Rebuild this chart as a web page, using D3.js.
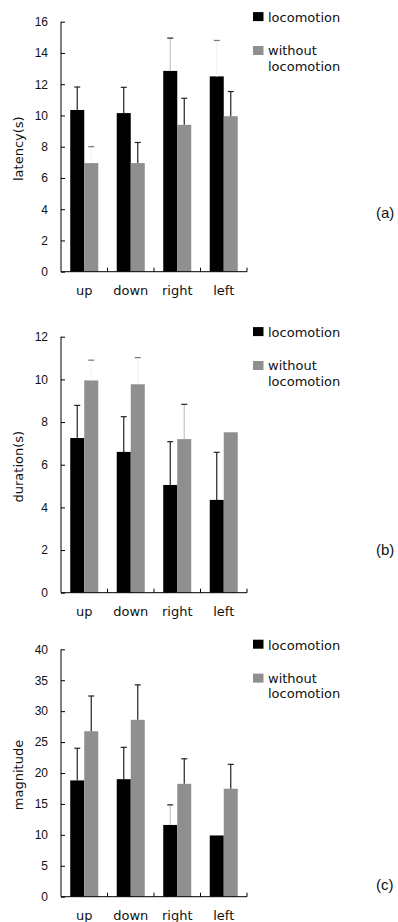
<!DOCTYPE html>
<html>
<head>
<meta charset="utf-8">
<script src="https://cdn.jsdelivr.net/npm/d3@7"></script>
<style>
    body { margin: 0; background: #fff; }
    svg { display: block; }
    .tick text { font-family: 'Liberation Sans', Arial, sans-serif; font-size: 12px; fill: #111; }
    .cat text { font-family: 'DejaVu Sans', sans-serif; font-size: 13px; fill: #111; }
    .lbl { font-family: 'DejaVu Sans', sans-serif; font-size: 13px; fill: #111; }
    .panel { font-family: 'Liberation Sans', Arial, sans-serif; font-size: 15px; fill: #111; }
</style>
</head>
<body>
<svg id="plate" width="398" height="922"></svg>
<script>
var categories = ['up', 'down', 'right', 'left'];
var seriesNames = ['locomotion', 'without locomotion'];

// latency (s)
var latencyLoco = [10.35, 10.15, 12.85, 12.5];
var latencyLocoSd = [1.47, 1.65, 2.1, 2.3];
var latencyWithout = [6.95, 6.95, 9.4, 9.95];
var latencyWithoutSd = [1.05, 1.32, 1.7, 1.58];
var latencyTicks = [0, 2, 4, 6, 8, 10, 12, 14, 16];

// duration (s)
var durationLoco = [7.25, 6.6, 5.05, 4.35];
var durationLocoSd = [1.53, 1.65, 2.03, 2.23];
var durationWithout = [9.95, 9.77, 7.2, 7.52];
var durationWithoutSd = [0.95, 1.25, 1.63, null];
var durationTicks = [0, 2, 4, 6, 8, 10, 12];

// magnitude
var magnitudeLoco = [18.8, 19.0, 11.6, 9.9];
var magnitudeLocoSd = [5.2, 5.15, 3.25, null];
var magnitudeWithout = [26.75, 28.6, 18.25, 17.45];
var magnitudeWithoutSd = [5.7, 5.65, 4.05, 3.95];
var magnitudeTicks = [0, 5, 10, 15, 20, 25, 30, 35, 40];

// some whisker stems are barely visible in the original scan
var whiskerLook = {
    'latency|1|up': 'cap', 'latency|0|right': 'light', 'latency|0|left': 'cap',
    'duration|1|up': 'cap', 'duration|1|down': 'cap', 'duration|1|right': 'light',
    'magnitude|0|right': 'light'
};

var colors = ['#000000', '#8f8f8f'];

var panels = [
    {key: 'latency', label: 'latency(s)', letter: '(a)', series: [latencyLoco, latencyWithout], sd: [latencyLocoSd, latencyWithoutSd],
        ticks: latencyTicks, top: 21.7, bottom: 271.7, letterY: 218},
    {key: 'duration', label: 'duration(s)', letter: '(b)', series: [durationLoco, durationWithout], sd: [durationLocoSd, durationWithoutSd],
        ticks: durationTicks, top: 336.7, bottom: 592.7, letterY: 555},
    {key: 'magnitude', label: 'magnitude', letter: '(c)', series: [magnitudeLoco, magnitudeWithout], sd: [magnitudeLocoSd, magnitudeWithoutSd],
        ticks: magnitudeTicks, top: 649.3, bottom: 896.7, letterY: 890}
];

var svg = d3.select('#plate');
var left = 61, right = 247;

var x = d3.scaleBand().domain(categories).range([left, right]);
var xs = d3.scaleBand().domain([0, 1]).range([0, x.bandwidth()]).paddingOuter(0.66);

panels.forEach(function (p) {
    var g = svg.append('g');
    var y = d3.scaleLinear()
        .domain([0, d3.max(p.ticks)])
        .range([p.bottom, p.top]);

    // bars
    p.series.forEach(function (vals, si) {
        g.append('g').selectAll('rect')
            .data(vals)
            .join('rect')
            .attr('x', (d, i) => x(categories[i]) + xs(si))
            .attr('y', (d) => y(d))
            .attr('width', xs.bandwidth())
            .attr('height', (d) => y(0) - y(d))
            .attr('fill', colors[si]);
    });

    // whiskers
    p.series.forEach(function (vals, si) {
        vals.forEach(function (v, i) {
            var sd = p.sd[si][i];
            if (sd == null) return;
            var look = whiskerLook[[p.key, si, categories[i]].join('|')];
            var cx = x(categories[i]) + xs(si) + xs.bandwidth() / 2;
            g.append('line')
                .attr('x1', cx).attr('x2', cx)
                .attr('y1', y(v)).attr('y2', y(v + sd))
                .attr('stroke', look === 'cap' ? '#f4f4f4' : (look === 'light' ? '#c4c4c4' : '#222'))
                .attr('stroke-width', 1.2);
            g.append('line')
                .attr('x1', cx - 3).attr('x2', cx + 3)
                .attr('y1', y(v + sd)).attr('y2', y(v + sd))
                .attr('stroke', look === 'cap' ? '#777' : '#222')
                .attr('stroke-width', 1.2);
        });
    });

    // y axis
    g.append('g')
        .attr('transform', 'translate(' + left + ',0)')
        .call(d3.axisLeft(y).tickValues(p.ticks).tickSize(-4).tickPadding(13).tickFormat(d3.format('d')))
        .call((a) => a.select('.domain').attr('d', 'M0,' + p.top + 'V' + p.bottom));

    // x axis: labels centred on groups
    g.append('g')
        .attr('class', 'cat')
        .attr('transform', 'translate(0,' + p.bottom + ')')
        .call(d3.axisBottom(x).tickSize(0).tickPadding(14.5))
        .call((a) => a.select('.domain').remove())
        .call((a) => a.selectAll('text').attr('class', null));

    // x axis line with group boundary ticks
    var bounds = categories.map((c) => x(c)).concat([right]);
    g.append('line')
        .attr('x1', left).attr('x2', right)
        .attr('y1', p.bottom).attr('y2', p.bottom)
        .attr('stroke', '#000');
    g.append('g').selectAll('line')
        .data(bounds.slice(1))
        .join('line')
        .attr('x1', (d) => d).attr('x2', (d) => d)
        .attr('y1', p.bottom).attr('y2', p.bottom - 4)
        .attr('stroke', '#000');

    // y label
    g.append('text')
        .attr('class', 'lbl')
        .attr('text-anchor', 'middle')
        .attr('transform', 'translate(23,' + ((p.top + p.bottom) / 2 + 2) + ') rotate(-90)')
        .text(p.label);

    // legend
    var lg = g.append('g').attr('transform', 'translate(253,' + p.top + ')');
    lg.append('rect').attr('x', 0).attr('y', -9.6).attr('width', 10.5).attr('height', 9).attr('fill', colors[0]);
    lg.append('text').attr('class', 'lbl').attr('x', 15).attr('y', 0.3).text(seriesNames[0]);
    lg.append('rect').attr('x', 0).attr('y', 24.3).attr('width', 10.5).attr('height', 9).attr('fill', colors[1]);
    lg.append('text').attr('class', 'lbl').attr('x', 15).attr('y', 33.3).text('without');
    lg.append('text').attr('class', 'lbl').attr('x', 15).attr('y', 49).text('locomotion');

    // panel letter
    g.append('text')
        .attr('class', 'panel')
        .attr('x', 376)
        .attr('y', p.letterY)
        .text(p.letter);
});
</script>
</body>
</html>
